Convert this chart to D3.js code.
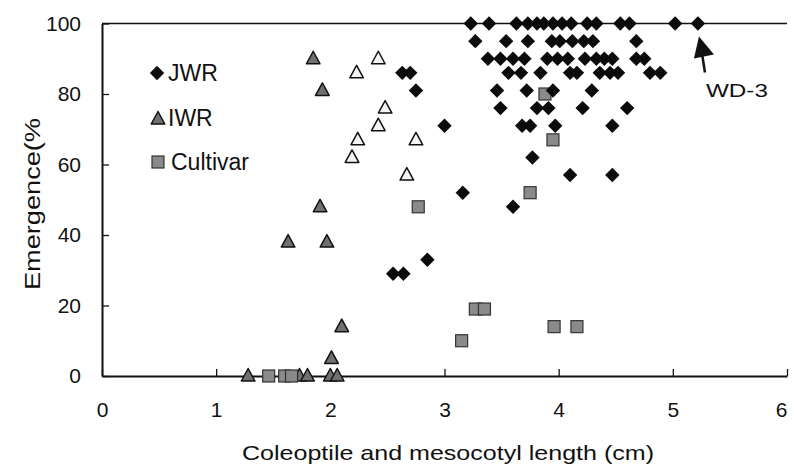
<!DOCTYPE html>
<html>
<head>
<meta charset="utf-8">
<script src="https://cdn.jsdelivr.net/npm/d3@7"></script>
<style>
  body { margin: 0; background: #fff; }
  svg { font-family: "Liberation Sans", Arial, sans-serif; }
</style>
</head>
<body>
<div class="scatterplot"></div>
<script>
// values: [length (cm), emergence (%)]
var jwrPoints = [
    [3.23,100],[3.39,100],[3.63,100],[3.73,100],[3.81,100],[3.87,100],[3.95,100],[4.03,100],
    [4.11,100],[4.25,100],[4.33,100],[4.54,100],[4.62,100],[5.02,100],[5.22,100],
    [3.27,95],[3.54,95],[3.73,95],[3.94,95],[4.01,95],[4.12,95],[4.22,95],[4.30,95],[4.68,95],
    [3.38,90],[3.49,90],[3.60,90],[3.70,90],[3.90,90],[3.99,90],[4.08,90],[4.23,90],[4.33,90],
    [4.40,90],[4.47,90],[4.68,90],[4.75,90],
    [2.63,86],[2.70,86],[3.56,86],[3.67,86],[3.84,86],[4.10,86],[4.16,86],[4.36,86],[4.45,86],
    [4.52,86],[4.80,86],[4.89,86],
    [2.75,81],[3.46,81],[3.72,81],[3.95,81],[4.29,81],
    [3.49,76],[3.81,76],[3.91,76],[4.21,76],[4.60,76],
    [3.00,71],[3.68,71],[3.75,71],[3.97,71],[4.47,71],
    [3.77,62],[4.10,57],[4.47,57],[3.16,52],[3.60,48],[2.85,33],[2.55,29],[2.64,29]
];
var iwrFilled = [
    [1.85,90],[1.93,81],[1.91,48],[1.63,38],[1.97,38],[2.10,14],[2.01,5],
    [1.28,0],[1.73,0],[1.80,0],[2.00,0],[2.06,0]
];
var iwrOpen = [
    [2.42,90],[2.23,86],[2.48,76],[2.42,71],[2.24,67],[2.75,67],[2.19,62],[2.67,57]
];
var cultivarPoints = [
    [1.46,0],[1.60,0],[1.66,0],[2.77,48],[3.88,80],[3.95,67],[3.75,52],
    [3.27,19],[3.35,19],[3.15,10],[3.96,14],[4.16,14]
];
var xTicks = [0, 1, 2, 3, 4, 5, 6];
var yTicks = [0, 20, 40, 60, 80, 100];
var legendNames = ["JWR", "IWR", "Cultivar"];
var labelPoint = [5.22, 100];

var width = 794, height = 466;

var svg = d3.select(".scatterplot")
    .append("svg")
    .attr("width", width)
    .attr("height", height);

var x = d3.scaleLinear().domain([0, 6]).range([102, 787]);
var y = d3.scaleLinear().domain([0, 100]).range([376, 23.5]);

// top frame line
svg.append("line")
    .attr("x1", x(0)).attr("x2", x(6))
    .attr("y1", y(100)).attr("y2", y(100))
    .attr("stroke", "#111").attr("stroke-width", 1.5);

var xAxis = d3.axisBottom(x).tickValues(xTicks).tickFormat(d3.format("d"))
    .tickSizeInner(-7).tickSizeOuter(0).tickPadding(26);
var yAxis = d3.axisLeft(y).tickValues(yTicks).tickFormat(d3.format("d"))
    .tickSizeInner(-7).tickSizeOuter(0).tickPadding(21);

var gx = svg.append("g")
    .attr("transform", "translate(0," + y(0) + ")")
    .call(xAxis);
var gy = svg.append("g")
    .attr("transform", "translate(" + x(0) + ",0)")
    .call(yAxis);

[gx, gy].forEach(function (g) {
    g.select(".domain").attr("stroke", "#111").attr("stroke-width", 2);
    g.selectAll(".tick line").attr("stroke", "#111").attr("stroke-width", 1.3);
    g.selectAll(".tick text").attr("font-size", 21).attr("fill", "#111")
        .attr("font-family", "Liberation Sans, Arial, sans-serif");
});
gx.selectAll(".tick text").filter(function (d) { return d == 6; }).attr("dx", -6);

// symbol helpers
function diamond(g, cx, cy) {
    g.append("path")
        .attr("d", d3.symbol().type(d3.symbolDiamond2).size(120)())
        .attr("transform", "translate(" + cx + "," + cy + ") scale(1.05,1.05)")
        .attr("fill", "#0b0b0b");
}
function triangle(g, cx, cy, fill) {
    g.append("path")
        .attr("d", "M0,-7.5L6.8,5L-6.8,5Z")
        .attr("transform", "translate(" + cx + "," + cy + ")")
        .attr("fill", fill)
        .attr("stroke", "#111")
        .attr("stroke-width", 1.5)
        .attr("stroke-linejoin", "round");
}
function square(g, cx, cy) {
    g.append("rect")
        .attr("x", cx - 6).attr("y", cy - 6)
        .attr("width", 12).attr("height", 12)
        .attr("fill", "#8a8a8a")
        .attr("stroke", "#333")
        .attr("stroke-width", 1.2);
}

var marks = svg.append("g");
iwrFilled.forEach(function (d) { triangle(marks, x(d[0]), y(d[1]), "#707070"); });
iwrOpen.forEach(function (d, i) { triangle(marks, x(d[0]), y(d[1]), "#f4f4f4"); });
cultivarPoints.forEach(function (d) { square(marks, x(d[0]), y(d[1])); });
jwrPoints.forEach(function (d) { diamond(marks, x(d[0]), y(d[1])); });

// legend
var legend = svg.append("g");
var legendY = [73, 118, 162];
diamond(legend, 157, legendY[0]);
triangle(legend, 158, legendY[1] + 1, "#707070");
square(legend, 158, legendY[2]);
legend.selectAll("text")
    .data(legendNames)
    .enter()
    .append("text")
    .attr("x", function (d, i) { return i == 2 ? 171 : 168; })
    .attr("y", function (d, i) { return legendY[i] + 8; })
    .attr("font-size", 23)
    .attr("fill", "#111")
    .text(function (d) { return d; });

// WD-3 annotation
var tipX = x(labelPoint[0]) + 1, tipY = y(labelPoint[1]) + 13;
svg.append("line")
    .attr("x1", tipX + 6).attr("y1", tipY + 36)
    .attr("x2", tipX + 2).attr("y2", tipY + 10)
    .attr("stroke", "#111").attr("stroke-width", 2.5);
svg.append("path")
    .attr("d", "M" + tipX + "," + tipY + "L" + (tipX + 15) + "," + (tipY + 18) + "L" + (tipX - 5) + "," + (tipY + 22) + "Z")
    .attr("fill", "#111");
svg.append("text")
    .attr("x", tipX + 7).attr("y", tipY + 60)
    .attr("font-size", 18)
    .attr("fill", "#111")
    .attr("textLength", 62)
    .attr("lengthAdjust", "spacingAndGlyphs")
    .text("WD-3");

// axis titles
svg.append("text")
    .attr("x", 448).attr("y", 460)
    .attr("text-anchor", "middle")
    .attr("font-size", 21)
    .attr("fill", "#111")
    .attr("textLength", 412)
    .attr("lengthAdjust", "spacingAndGlyphs")
    .text("Coleoptile and mesocotyl length (cm)");

svg.append("text")
    .attr("transform", "translate(40,204) rotate(-90)")
    .attr("text-anchor", "middle")
    .attr("font-size", 22)
    .attr("fill", "#111")
    .attr("textLength", 172)
    .attr("lengthAdjust", "spacingAndGlyphs")
    .text("Emergence(%");
</script>
</body>
</html>
